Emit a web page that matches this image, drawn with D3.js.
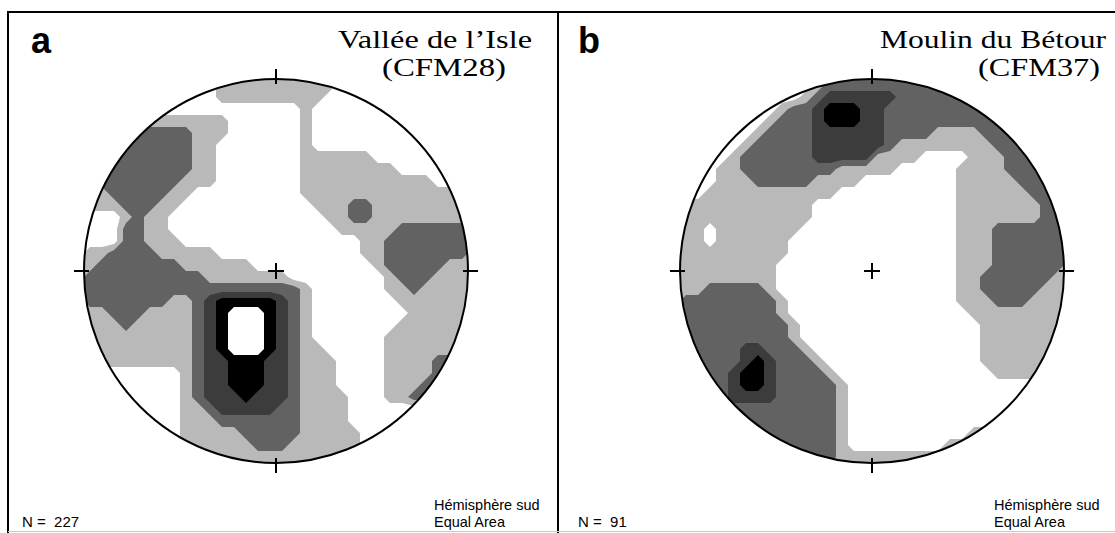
<!DOCTYPE html>
<html><head><meta charset="utf-8">
<script src="https://cdn.jsdelivr.net/npm/d3@7"></script>
<style>body{margin:0;background:#fff}svg{display:block}</style>
</head><body>
<svg id="chart" width="1115" height="533"></svg>
<script>
// ---------- data ----------
const panelLabels = ["a", "b"];
const siteNames = ["Vallée de l\u2019Isle", "Moulin du Bétour"];
const siteCodes = ["(CFM28)", "(CFM37)"];
const sampleCounts = [227, 91];
const hemisphereLabel = "Hémisphère sud";
const projectionLabel = "Equal Area";
const levelThresholds = [0.5, 1.5, 2.5, 3.5, 4.5];

// contour level read per cell (32 x 32 grid over the net's bounding square)
const densityA = [
"00000000000111111111100000000000",
"00000000000111111111000000000000",
"00000000000000000010000000000000",
"11111111111100000010000000000000",
"22222222211100000010000000000000",
"22222222211000000010000000000000",
"22222222211000000011111100000000",
"22222222211000000011111111000000",
"22222222111000000011111111111000",
"11222221100000000011111111111111",
"11122211000000000001112211111111",
"00012110000000000000112211111111",
"00022110000000000000011111222222",
"00022111000000000000000112222222",
"11222211111000000000000112222222",
"12222222111111000000000012222211",
"22222222221111111000000001222111",
"22222222222222222210000001121111",
"22222221123444443210000000111111",
"11222111123455543210000000011111",
"11121111123455543210000000111111",
"11111111123455543210000001111111",
"11111111123455543211000001111111",
"11111111123344433211100001111222",
"00000000123344433211100001111222",
"00000000123344433211100001112222",
"00000000123334333211110001122222",
"00000000112333332211110000000000",
"00000000111222222211110000000000",
"00000000111112222211111000000000",
"00000000111111222111111000000000",
"00000000111111111111111000000000"
];
const densityB = [
"00000000000122222222222222222222",
"00000000001233333322222222222222",
"00000000122344433222222222222222",
"00000001222344433222222222222222",
"00000012222333333222211112222222",
"00000122222333333211111111222222",
"00001222222333331111000011122222",
"00011222222221111100000111122222",
"00011122222111100000000111112222",
"00111111111110000000000111111222",
"11111111111000000000000111111122",
"11111111111000000000000111111122",
"11011111110000000000000111222222",
"11011111100000000000000111222222",
"11111111100000000000000111222222",
"11111111000000000000000111222222",
"11111111000000000000000112222221",
"11222221000000000000000112222211",
"22222222100000000000000111222111",
"22222222100000000000000011111111",
"22222222210000000000000001111111",
"22222222210000000000000001111111",
"22222332221000000000000001111111",
"22222343222100000000000001111111",
"22223443222210000000000000111111",
"22223443222221000000000000000000",
"22223333222221000000000000000000",
"22222222222221000000000000000000",
"22222222222221000000000000000000",
"22222222222221000000000011111111",
"22222222222221000000001111111111",
"22222222222221111111111111111111"
];
const densities = [densityA, densityB];

// ---------- styles / layout ----------
const levelFills = ["#b9b9b9", "#626262", "#3c3c3c", "#000000", "#ffffff"];
const W = 1115, H = 533, CY = 271, R = 192, N = 32;
const layout = [
  {cx: 276, labelX: 31, titleEnd: 532, titleW: 194, codeEnd: 506, codeW: 124, nX: 22, hemX: 434},
  {cx: 872, labelX: 578, titleEnd: 1106, titleW: 226, codeEnd: 1100, codeW: 122, nX: 578, hemX: 994}
];

const svg = d3.select("#chart");
svg.append("rect").attr("width", W).attr("height", H).attr("fill", "#fff");
const defs = svg.append("defs");

const contourGen = d3.contours().size([N, N]).thresholds(levelThresholds);

densities.forEach((rows, i) => {
  const L = layout[i];
  const values = rows.flatMap(r => Array.from(r, Number));
  const x = d3.scaleLinear().domain([0, N]).range([L.cx - R, L.cx + R]);
  const y = d3.scaleLinear().domain([0, N]).range([CY - R, CY + R]);
  const path = d3.geoPath(d3.geoTransform({
    point(px, py) { this.stream.point(x(px), y(py)); }
  }));
  const clipId = "netclip" + i;
  defs.append("clipPath").attr("id", clipId)
    .append("circle").attr("cx", L.cx).attr("cy", CY).attr("r", R);
  const g = svg.append("g").attr("clip-path", `url(#${clipId})`);
  g.append("circle").attr("cx", L.cx).attr("cy", CY).attr("r", R).attr("fill", "#fff");
  g.selectAll("path").data(contourGen(values)).join("path")
    .attr("d", path)
    .attr("fill", d => levelFills[levelThresholds.indexOf(d.value)]);

  // primitive circle
  svg.append("circle").attr("cx", L.cx).attr("cy", CY).attr("r", R)
    .attr("fill", "none").attr("stroke", "#000").attr("stroke-width", 2);
  // ticks N E S W
  const tk = svg.append("g").attr("stroke", "#000").attr("stroke-width", 2);
  tk.append("line").attr("x1", L.cx).attr("x2", L.cx).attr("y1", CY - R - 10).attr("y2", CY - R + 5);
  tk.append("line").attr("x1", L.cx).attr("x2", L.cx).attr("y1", CY + R - 5).attr("y2", CY + R + 10);
  tk.append("line").attr("y1", CY).attr("y2", CY).attr("x1", L.cx - R - 10).attr("x2", L.cx - R + 5);
  tk.append("line").attr("y1", CY).attr("y2", CY).attr("x1", L.cx + R - 5).attr("x2", L.cx + R + 10);
  // centre cross
  tk.append("line").attr("x1", L.cx - 8).attr("x2", L.cx + 8).attr("y1", CY).attr("y2", CY);
  tk.append("line").attr("x1", L.cx).attr("x2", L.cx).attr("y1", CY - 8).attr("y2", CY + 8);

  // texts
  svg.append("text").attr("x", L.labelX).attr("y", 53)
    .attr("font-family", "Liberation Sans, Arial, sans-serif").attr("font-weight", "bold")
    .attr("font-size", 36).text(panelLabels[i]);
  svg.append("text").attr("x", L.titleEnd).attr("y", 48).attr("text-anchor", "end")
    .attr("font-family", "Liberation Serif, Times New Roman, serif").attr("font-size", 25)
    .attr("textLength", L.titleW).attr("lengthAdjust", "spacingAndGlyphs").text(siteNames[i]);
  svg.append("text").attr("x", L.codeEnd).attr("y", 76).attr("text-anchor", "end")
    .attr("font-family", "Liberation Serif, Times New Roman, serif").attr("font-size", 25)
    .attr("textLength", L.codeW).attr("lengthAdjust", "spacingAndGlyphs").text(siteCodes[i]);
  svg.append("text").attr("x", L.nX).attr("y", 527)
    .style("white-space", "pre")
    .attr("font-family", "Liberation Sans, Arial, sans-serif").attr("font-size", 15)
    .text("N =  " + sampleCounts[i]);
  svg.append("text").attr("x", L.hemX).attr("y", 510)
    .attr("font-family", "Liberation Sans, Arial, sans-serif").attr("font-size", 14.5)
    .text(hemisphereLabel);
  svg.append("text").attr("x", L.hemX).attr("y", 527)
    .attr("font-family", "Liberation Sans, Arial, sans-serif").attr("font-size", 14.5)
    .text(projectionLabel);
});

// frame
const fr = svg.append("g").attr("stroke", "#000").attr("stroke-width", 2);
fr.append("line").attr("x1", 7).attr("x2", W).attr("y1", 12).attr("y2", 12);
fr.append("line").attr("x1", 8).attr("x2", 8).attr("y1", 11).attr("y2", H);
fr.append("line").attr("x1", 558).attr("x2", 558).attr("y1", 11).attr("y2", H);
svg.append("line").attr("x1", 8).attr("x2", W).attr("y1", 531.5).attr("y2", 531.5)
  .attr("stroke", "#c8c8c8").attr("stroke-width", 1);
</script>
</body></html>
